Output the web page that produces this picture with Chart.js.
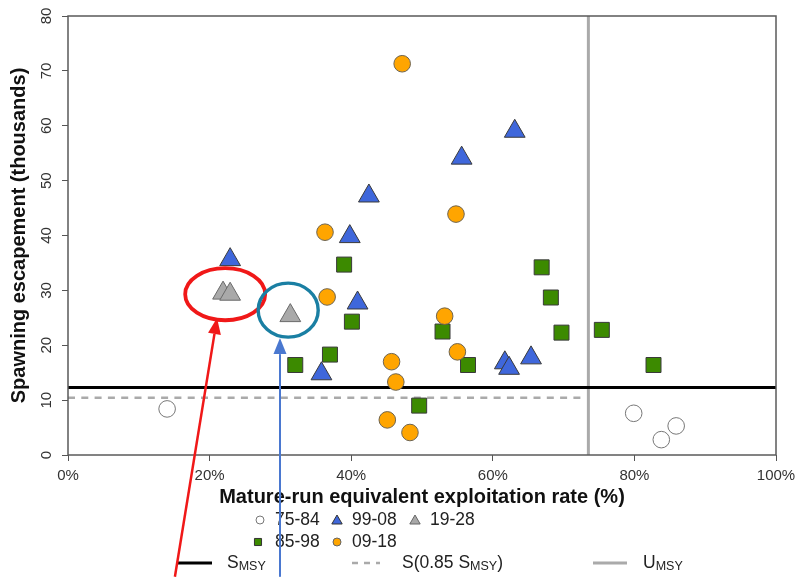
<!DOCTYPE html>
<html>
<head>
<meta charset="utf-8">
<script src="https://cdn.jsdelivr.net/npm/chart.js@4/dist/chart.umd.min.js"></script>
<style>
html,body{margin:0;padding:0;background:#fff;}
#wrap{width:796px;height:577px;position:relative;}
</style>
</head>
<body>
<div id="wrap"><canvas id="c" width="796" height="577"></canvas></div>
<script>
// ---------- data ----------
const periodLabels = ['75-84', '85-98', '99-08', '09-18', '19-28'];

const er7584 = [14.0, 79.9, 83.8, 85.9];
const esc7584 = [8.4, 7.6, 2.8, 5.3];

const er8598 = [32.1, 37.0, 39.0, 40.1, 49.6, 52.9, 56.5, 66.9, 68.2, 69.7, 75.4, 82.7];
const esc8598 = [16.4, 18.3, 34.7, 24.3, 9.0, 22.5, 16.4, 34.2, 28.7, 22.3, 22.8, 16.4];

const er9908 = [22.9, 35.8, 39.8, 40.9, 42.5, 55.6, 63.1, 61.7, 62.3, 65.4];
const esc9908 = [35.6, 14.8, 39.8, 27.7, 47.2, 54.1, 59.0, 16.8, 15.8, 17.7];

const er0918 = [47.2, 54.8, 36.3, 36.6, 45.7, 46.3, 45.1, 48.3, 53.2, 55.0];
const esc0918 = [71.3, 43.9, 40.6, 28.8, 17.0, 13.3, 6.4, 4.1, 25.3, 18.8];

const er1928 = [21.9, 22.9, 31.4];
const esc1928 = [29.5, 29.3, 25.4];

const S_MSY = 12.3;          // thousands
const S_085 = 0.85 * S_MSY;  // thousands
const U_MSY = 73.5;          // percent

const xTicks = [0, 20, 40, 60, 80, 100];
const yTicks = [0, 10, 20, 30, 40, 50, 60, 70, 80];

// annotation anchors, in data units
const redEllipse = {x: 22.2, y: 29.3, rx: 5.65, ry: 4.74};
const tealEllipse = {x: 31.1, y: 26.4, rx: 4.24, ry: 4.92};
const redArrow = {x0: 15.1, y0: -22.2, x1: 21.05, y1: 24.95};
const blueArrow = {x0: 29.94, y0: -22.2, x1: 29.94, y1: 21.3};

// ---------- helpers ----------
const zip = (xs, ys) => xs.map((v, i) => ({x: v, y: ys[i]}));
const FONT = '"Liberation Sans", Arial, Helvetica, sans-serif';
Chart.defaults.font.family = FONT;

function drawSymbol(ctx, style, cx, cy, r, fill, stroke) {
  ctx.save();
  ctx.fillStyle = fill; ctx.strokeStyle = stroke; ctx.lineWidth = 1;
  ctx.beginPath();
  if (style === 'circle') {
    ctx.arc(cx, cy, r, 0, Math.PI * 2);
  } else if (style === 'triangle') {
    for (let k = 0; k < 3; k++) {
      const a = k * 2 * Math.PI / 3;
      const px = cx + Math.sin(a) * r, py = cy - Math.cos(a) * r;
      if (k === 0) ctx.moveTo(px, py); else ctx.lineTo(px, py);
    }
    ctx.closePath();
  } else if (style === 'rect') {
    const s = r * Math.SQRT1_2;
    ctx.rect(cx - s, cy - s, 2 * s, 2 * s);
  }
  ctx.fill(); ctx.stroke();
  ctx.restore();
}

function drawRich(ctx, parts, x, y) {
  let cx = x;
  ctx.fillStyle = '#222';
  for (const p of parts) {
    ctx.font = (p.sub ? '12.5px ' : '17.5px ') + FONT;
    ctx.textBaseline = 'middle';
    ctx.textAlign = 'left';
    ctx.fillText(p.t, cx, y + (p.sub ? 4 : 0));
    cx += ctx.measureText(p.t).width;
  }
}

function drawArrow(ctx, x0, y0, x1, y1, color, lw, hl, hw) {
  const ang = Math.atan2(y1 - y0, x1 - x0);
  const bx = x1 - Math.cos(ang) * hl, by = y1 - Math.sin(ang) * hl;
  ctx.save();
  ctx.strokeStyle = color; ctx.fillStyle = color; ctx.lineWidth = lw;
  ctx.beginPath(); ctx.moveTo(x0, y0); ctx.lineTo(bx, by); ctx.stroke();
  ctx.beginPath();
  ctx.moveTo(x1, y1);
  ctx.lineTo(bx + Math.sin(ang) * hw / 2, by - Math.cos(ang) * hw / 2);
  ctx.lineTo(bx - Math.sin(ang) * hw / 2, by + Math.cos(ang) * hw / 2);
  ctx.closePath(); ctx.fill();
  ctx.restore();
}

const refPlugin = {
  id: 'refLines',
  beforeDatasetsDraw(chart) {
    const {ctx, chartArea: a, scales: {x, y}} = chart;
    ctx.save();
    // U_MSY vertical
    ctx.strokeStyle = '#aaaaaa'; ctx.lineWidth = 3;
    ctx.beginPath();
    ctx.moveTo(x.getPixelForValue(U_MSY), a.top);
    ctx.lineTo(x.getPixelForValue(U_MSY), a.bottom);
    ctx.stroke();
    // 0.85 S_MSY dashed
    ctx.setLineDash([7, 6.3]);
    ctx.lineWidth = 2.5;
    ctx.beginPath();
    ctx.moveTo(x.getPixelForValue(0), y.getPixelForValue(S_085));
    ctx.lineTo(x.getPixelForValue(U_MSY) - 5, y.getPixelForValue(S_085));
    ctx.stroke();
    ctx.setLineDash([]);
    // S_MSY
    ctx.strokeStyle = '#000'; ctx.lineWidth = 3;
    ctx.beginPath();
    ctx.moveTo(a.left, y.getPixelForValue(S_MSY));
    ctx.lineTo(a.right, y.getPixelForValue(S_MSY));
    ctx.stroke();
    // frame
    ctx.strokeStyle = '#5a5a5a'; ctx.lineWidth = 1.5;
    ctx.strokeRect(a.left, a.top, a.right - a.left, a.bottom - a.top);
    ctx.restore();
  },
  afterDraw(chart) {
    const {ctx, scales: {x, y}} = chart;
    ctx.save();
    // legend rows
    const r1 = 520, r2 = 542, r3 = 563;
    drawSymbol(ctx, 'circle', 260, r1, 4, '#fff', '#777');
    drawRich(ctx, [{t: periodLabels[0]}], 275, r1);
    drawSymbol(ctx, 'triangle', 337, r1 + 1, 6, '#3f67db', '#333');
    drawRich(ctx, [{t: periodLabels[2]}], 352, r1);
    drawSymbol(ctx, 'triangle', 415, r1 + 1, 6, '#a8a8a8', '#666');
    drawRich(ctx, [{t: periodLabels[4]}], 430, r1);
    drawSymbol(ctx, 'rect', 258, r2, 5, '#3c8a00', '#333');
    drawRich(ctx, [{t: periodLabels[1]}], 275, r2);
    drawSymbol(ctx, 'circle', 337, r2, 4, '#ffa500', '#666');
    drawRich(ctx, [{t: periodLabels[3]}], 352, r2);
    // line legend
    ctx.strokeStyle = '#000'; ctx.lineWidth = 3;
    ctx.beginPath(); ctx.moveTo(178, r3); ctx.lineTo(212, r3); ctx.stroke();
    drawRich(ctx, [{t: 'S'}, {t: 'MSY', sub: true}], 227, r3);
    ctx.strokeStyle = '#aaa'; ctx.lineWidth = 2.5; ctx.setLineDash([6, 6]);
    ctx.beginPath(); ctx.moveTo(352, r3); ctx.lineTo(380, r3); ctx.stroke();
    ctx.setLineDash([]);
    drawRich(ctx, [{t: 'S(0.85 S'}, {t: 'MSY', sub: true}, {t: ')'}], 402, r3);
    ctx.strokeStyle = '#aaa'; ctx.lineWidth = 3;
    ctx.beginPath(); ctx.moveTo(593, r3); ctx.lineTo(627, r3); ctx.stroke();
    drawRich(ctx, [{t: 'U'}, {t: 'MSY', sub: true}], 643, r3);

    // annotations
    const ell = (e, color, lw) => {
      const cx = x.getPixelForValue(e.x), cy = y.getPixelForValue(e.y);
      const rx = Math.abs(x.getPixelForValue(e.x + e.rx) - cx);
      const ry = Math.abs(y.getPixelForValue(e.y + e.ry) - cy);
      ctx.strokeStyle = color; ctx.lineWidth = lw;
      ctx.beginPath(); ctx.ellipse(cx, cy, rx, ry, 0, 0, Math.PI * 2); ctx.stroke();
    };
    ell(redEllipse, '#f01818', 3.8);
    ell(tealEllipse, '#1a7fa3', 3.4);
    drawArrow(ctx, x.getPixelForValue(redArrow.x0), y.getPixelForValue(redArrow.y0),
      x.getPixelForValue(redArrow.x1), y.getPixelForValue(redArrow.y1), '#f01818', 2.5, 16, 13);
    drawArrow(ctx, x.getPixelForValue(blueArrow.x0), y.getPixelForValue(blueArrow.y0),
      x.getPixelForValue(blueArrow.x1), y.getPixelForValue(blueArrow.y1), '#4a78d0', 2, 16, 13);
    ctx.restore();
  }
};

const tickFont = {size: 15};
new Chart(document.getElementById('c'), {
  type: 'scatter',
  data: {
    datasets: [
      {label: periodLabels[0], data: zip(er7584, esc7584), pointStyle: 'circle', pointRadius: 8.3,
       backgroundColor: '#ffffff', borderColor: '#777777', borderWidth: 1, order: 5},
      {label: periodLabels[1], data: zip(er8598, esc8598), pointStyle: 'rect', pointRadius: 10.6,
       backgroundColor: '#3c8a00', borderColor: '#3a3a3a', borderWidth: 1, order: 4},
      {label: periodLabels[2], data: zip(er9908, esc9908), pointStyle: 'triangle', pointRadius: 12,
       backgroundColor: '#3f67db', borderColor: '#3a3a3a', borderWidth: 1, order: 3},
      {label: periodLabels[3], data: zip(er0918, esc0918), pointStyle: 'circle', pointRadius: 8.3,
       backgroundColor: '#ffa500', borderColor: '#6e6450', borderWidth: 1, order: 2},
      {label: periodLabels[4], data: zip(er1928, esc1928), pointStyle: 'triangle', pointRadius: 12,
       backgroundColor: '#a9a9a9', borderColor: '#6a6a6a', borderWidth: 1, order: 1}
    ]
  },
  options: {
    responsive: false,
    animation: false,
    events: [],
    layout: {padding: {left: 0, right: 20, top: 16, bottom: 68}},
    plugins: {legend: {display: false}, tooltip: {enabled: false}},
    scales: {
      x: {
        type: 'linear', min: 0, max: 100,
        afterBuildTicks(s) { s.ticks = xTicks.map(v => ({value: v})); },
        ticks: {callback: v => v + '%', maxRotation: 0, minRotation: 0, padding: 6, color: '#333', font: tickFont, autoSkip: false},
        grid: {drawOnChartArea: false, drawTicks: true, tickLength: 6, color: '#555'},
        border: {display: false},
        title: {display: true, text: 'Mature-run equivalent exploitation rate (%)', color: '#111',
                font: {size: 20, weight: 'bold'}, padding: {top: 0, bottom: 0}},
        afterFit(s) { s.height = 54; s.paddingLeft = 0; s.paddingRight = 0; }
      },
      y: {
        type: 'linear', min: 0, max: 80,
        afterBuildTicks(s) { s.ticks = yTicks.map(v => ({value: v})); },
        ticks: {minRotation: 90, maxRotation: 90, crossAlign: 'center', padding: 7, color: '#333', font: tickFont, autoSkip: false},
        grid: {drawOnChartArea: false, drawTicks: true, tickLength: 6, color: '#555'},
        border: {display: false},
        title: {display: true, text: 'Spawning escapement (thousands)', color: '#111',
                font: {size: 20, weight: 'bold'}, padding: {top: 7, bottom: 0}},
        afterFit(s) { s.width = 68; s.paddingTop = 0; s.paddingBottom = 0; }
      }
    }
  },
  plugins: [refPlugin]
});
</script>
</body>
</html>
